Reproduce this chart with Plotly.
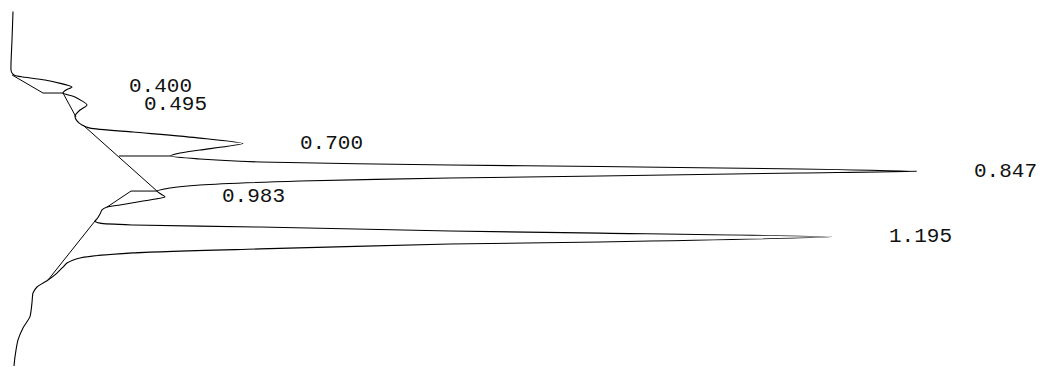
import plotly.graph_objects as go

# Detector signal (arbitrary units) vs retention time (min)
signal = [2, 1, 0, 1, 4, 12, 34, 61, 55, 52, 64, 76, 69, 64, 66, 71, 79, 122, 189, 232,
          189, 169, 159, 189, 249, 439, 589, 789, 906, 789, 589, 439, 289, 189, 159, 146,
          149, 154, 132, 109, 96, 91, 89, 86, 84, 89, 122, 249, 439, 589, 821, 589, 439,
          249, 122, 69, 56, 52, 46, 37, 26, 22, 21, 19, 12, 7, 4, 3]
time = [0.000, 0.151, 0.310, 0.326, 0.339, 0.347, 0.363, 0.400, 0.416, 0.432, 0.453, 0.495,
        0.522, 0.554, 0.580, 0.602, 0.618, 0.639, 0.671, 0.700, 0.734, 0.750, 0.766, 0.782,
        0.798, 0.814, 0.822, 0.835, 0.847, 0.856, 0.872, 0.883, 0.899, 0.920, 0.936, 0.952,
        0.965, 0.983, 1.005, 1.026, 1.037, 1.052, 1.074, 1.100, 1.111, 1.122, 1.132, 1.143,
        1.164, 1.175, 1.195, 1.222, 1.233, 1.259, 1.280, 1.307, 1.334, 1.355, 1.387, 1.424,
        1.461, 1.493, 1.544, 1.618, 1.678, 1.742, 1.832, 1.880]

# Integration baselines and drop lines (None separates segments)
base_signal = [1, 32, 52, None, 52, 65, None, 72, 146, None, 108, 159, None,
               146, 120, 96, None, 84, 37]
base_time = [0.336, 0.432, 0.432, None, 0.432, 0.559, None, 0.602, 0.952, None, 0.766, 0.766, None,
             0.952, 0.952, 1.037, None, 1.111, 1.424]

# Peak labels
peak_times = [0.400, 0.495, 0.700, 0.847, 0.983, 1.195]
peak_heights = [61, 76, 232, 906, 154, 821]
peak_labels = ["0.400", "0.495", "0.700", "0.847", "0.983", "1.195"]

fig = go.Figure()
fig.add_trace(go.Scatter(x=signal, y=time, mode="lines",
                         line=dict(color="black", width=1.1, shape="spline", smoothing=0.6),
                         hoverinfo="skip"))
fig.add_trace(go.Scatter(x=base_signal, y=base_time, mode="lines",
                         line=dict(color="black", width=1), hoverinfo="skip"))

for t, h, lab in zip(peak_times, peak_heights, peak_labels):
    fig.add_annotation(x=h, y=t, text=lab, showarrow=False, xanchor="left", yanchor="middle",
                       xshift=55, font=dict(family="Liberation Mono", size=21, color="#111"))

fig.update_layout(
    width=1051, height=367, margin=dict(l=0, r=0, t=0, b=0),
    paper_bgcolor="white", plot_bgcolor="white", showlegend=False,
    xaxis=dict(range=[-11, 1040], visible=False),
    yaxis=dict(range=[1.8854, -0.0615], visible=False),
)
fig.write_html("out.html", config={"displayModeBar": False})

# remove the default page margin so the chart sits at the window's top-left corner
with open("out.html", encoding="utf-8") as f:
    html = f.read()
html = html.replace("<head>", "<head><style>body{margin:0;overflow:hidden}</style>", 1)
with open("out.html", "w", encoding="utf-8") as f:
    f.write(html)
